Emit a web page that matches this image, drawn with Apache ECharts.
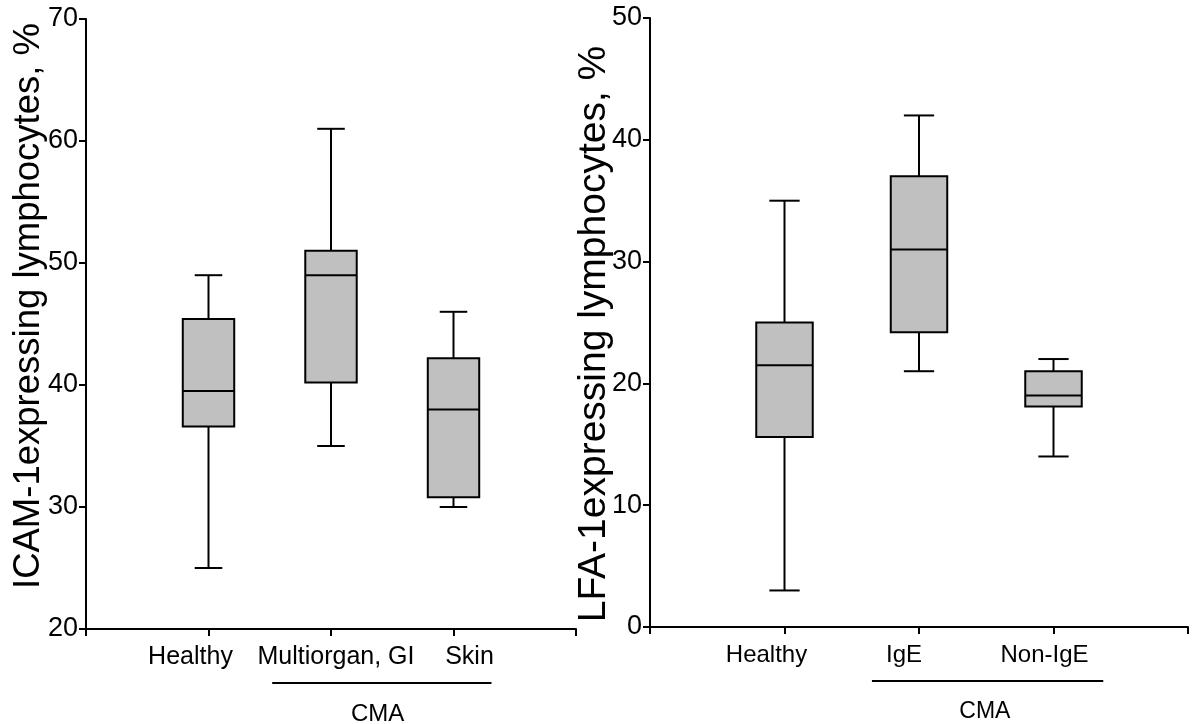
<!DOCTYPE html>
<html>
<head>
<meta charset="utf-8">
<script src="https://cdn.jsdelivr.net/npm/echarts@6/dist/echarts.min.js"></script>
<style>
html,body{margin:0;padding:0;background:#fff;}
#chart{width:1193px;height:724px;}
</style>
</head>
<body>
<div id="chart"></div>
<script>
// ---- Data ----
const leftCategories = ['Healthy', 'Multiorgan, GI', 'Skin'];
const leftMin    = [25, 35, 30];
const leftQ1     = [36.6, 40.2, 30.8];
const leftMedian = [39.5, 49, 38];
const leftQ3     = [45.4, 51, 42.2];
const leftMax    = [49, 61, 46];

const rightCategories = ['Healthy', 'IgE', 'Non-IgE'];
const rightMin    = [3, 21, 14];
const rightQ1     = [15.6, 24.2, 18.1];
const rightMedian = [21.5, 31, 19];
const rightQ3     = [25, 37, 21];
const rightMax    = [35, 42, 22];

const leftYAxis  = { min: 20, max: 70, interval: 10 };
const rightYAxis = { min: 0, max: 50, interval: 10 };

const leftTitle  = 'ICAM-1expressing lymphocytes, %';
const rightTitle = 'LFA-1expressing lymphocytes, %';
const groupLabel = 'CMA';

// ---- Styling ----
const FONT = '"Liberation Sans", Arial, sans-serif';
const leftLabelShift  = [-18, 5, 16];
const rightLabelShift = [-18, -15, -9];
const leftBracket  = { from: 1.52, to: 3.31, text: 2.38 };
const rightBracket = { from: 1.65, to: 3.37, text: 2.49 };

function buildData(mn, q1, md, q3, mx) {
  return mn.map((v, i) => [i + 1, v, q1[i], md[i], q3[i], mx[i]]);
}

function renderBox(params, api) {
  const x = api.value(0);
  const pMin = api.coord([x, api.value(1)]);
  const pQ1 = api.coord([x, api.value(2)]);
  const pMed = api.coord([x, api.value(3)]);
  const pQ3 = api.coord([x, api.value(4)]);
  const pMax = api.coord([x, api.value(5)]);
  const slot = api.size([1, 0])[0];
  const bw = slot * 0.42;
  const cw = slot * 0.225;
  const cx = pMed[0];
  const ls = { stroke: '#000', lineWidth: 2 };
  return {
    type: 'group',
    children: [
      { type: 'line', shape: { x1: cx, y1: pQ3[1], x2: cx, y2: pMax[1] }, style: ls },
      { type: 'line', shape: { x1: cx - cw / 2, y1: pMax[1], x2: cx + cw / 2, y2: pMax[1] }, style: ls },
      { type: 'line', shape: { x1: cx, y1: pQ1[1], x2: cx, y2: pMin[1] }, style: ls },
      { type: 'line', shape: { x1: cx - cw / 2, y1: pMin[1], x2: cx + cw / 2, y2: pMin[1] }, style: ls },
      { type: 'rect', shape: { x: cx - bw / 2, y: pQ3[1], width: bw, height: pQ1[1] - pQ3[1] },
        style: { fill: '#c0c0c0', stroke: '#000', lineWidth: 2 } },
      { type: 'line', shape: { x1: cx - bw / 2, y1: pMed[1], x2: cx + bw / 2, y2: pMed[1] }, style: ls }
    ]
  };
}

function xAxisFor(gridIndex, cats, shifts, fs) {
  const rich = {};
  shifts.forEach((s, i) => {
    rich['c' + i] = {
      fontFamily: FONT, fontSize: fs, color: '#000',
      padding: s < 0 ? [0, -2 * s, 0, 0] : [0, 0, 0, 2 * s]
    };
  });
  return {
    type: 'value', gridIndex, min: 0, max: cats.length + 1, interval: 1,
    axisLine: { show: true, lineStyle: { color: '#000', width: 2 } },
    axisTick: { show: true, length: 7, inside: false, lineStyle: { color: '#000', width: 2 } },
    splitLine: { show: false },
    axisLabel: {
      show: true, margin: 16, showMinLabel: true, showMaxLabel: true,
      fontFamily: FONT, fontSize: fs, color: '#000',
      formatter: v => {
        const i = Math.round(v) - 1;
        return (i >= 0 && i < cats.length) ? '{c' + i + '|' + cats[i] + '}' : '';
      },
      rich
    }
  };
}

function yAxisFor(gridIndex, ax) {
  return {
    type: 'value', gridIndex, min: ax.min, max: ax.max, interval: ax.interval,
    axisLine: { show: true, lineStyle: { color: '#000', width: 2 } },
    axisTick: { show: true, length: 7, inside: false, lineStyle: { color: '#000', width: 2 } },
    splitLine: { show: false },
    axisLabel: { margin: 8, fontFamily: FONT, fontSize: 27, color: '#000' }
  };
}

const chart = echarts.init(document.getElementById('chart'), null, { renderer: 'canvas' });
chart.setOption({
  animation: false,
  backgroundColor: '#fff',
  grid: [
    { left: 86, top: 19, width: 490, height: 610 },
    { left: 650, top: 18, width: 538, height: 609 }
  ],
  xAxis: [
    xAxisFor(0, leftCategories, leftLabelShift, 25),
    xAxisFor(1, rightCategories, rightLabelShift, 24)
  ],
  yAxis: [yAxisFor(0, leftYAxis), yAxisFor(1, rightYAxis)],
  series: [
    { type: 'custom', xAxisIndex: 0, yAxisIndex: 0, renderItem: renderBox,
      data: buildData(leftMin, leftQ1, leftMedian, leftQ3, leftMax), clip: false },
    { type: 'custom', xAxisIndex: 1, yAxisIndex: 1, renderItem: renderBox,
      data: buildData(rightMin, rightQ1, rightMedian, rightQ3, rightMax), clip: false }
  ]
});

function px(gridIdx, xv, yv) {
  return chart.convertToPixel({ xAxisIndex: gridIdx, yAxisIndex: gridIdx }, [xv, yv]);
}
const lAxisY = px(0, 0, leftYAxis.min)[1];
const rAxisY = px(1, 0, rightYAxis.min)[1];
const graphics = [];
function addBracket(gi, br, axisY, fs) {
  const y0 = gi === 0 ? leftYAxis.min : rightYAxis.min;
  const a = px(gi, br.from, y0);
  const b = px(gi, br.to, y0);
  const t = px(gi, br.text, y0);
  graphics.push({ type: 'line', shape: { x1: a[0], y1: axisY + 54, x2: b[0], y2: axisY + 54 },
    style: { stroke: '#000', lineWidth: 2 } });
  graphics.push({ type: 'text', x: t[0], y: axisY + 85,
    style: { text: groupLabel, fontFamily: FONT, fontSize: fs, fill: '#000', align: 'center', verticalAlign: 'middle' } });
}
addBracket(0, leftBracket, lAxisY, 24);
addBracket(1, rightBracket, rAxisY, 23);
graphics.push({ type: 'text', x: 29, y: 306, rotation: Math.PI / 2,
  style: { text: leftTitle, fontFamily: FONT, fontSize: 36.5, fill: '#000', align: 'center', verticalAlign: 'middle' } });
graphics.push({ type: 'text', x: 594, y: 334, rotation: Math.PI / 2,
  style: { text: rightTitle, fontFamily: FONT, fontSize: 39, fill: '#000', align: 'center', verticalAlign: 'middle' } });
chart.setOption({ graphic: graphics });
</script>
</body>
</html>
